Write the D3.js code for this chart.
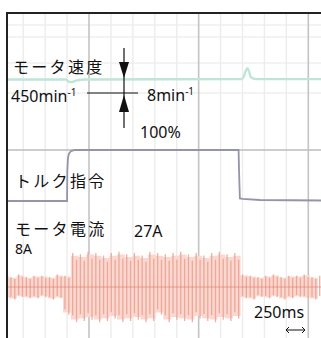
<!DOCTYPE html>
<html>
<head>
<meta charset="utf-8">
<script src="https://cdn.jsdelivr.net/npm/d3@7"></script>
<style>
html, body { margin: 0; padding: 0; background: #fff; }
svg { display: block; }
text { font-family: "Noto Sans", "Noto Sans CJK JP", sans-serif; fill: #111; }
.jp { font-family: "Noto Sans CJK JP", sans-serif; }
</style>
</head>
<body>
<div id="chart"></div>
<script>
// time grid: 250 ms per division, heavier line every 5 divisions
const gridTimes = d3.range(0, 4001, 250);
const majorStep = 1250;

// motor speed (min^-1)
const speedTimes  = [300, 990, 1020, 1050, 1100, 1200, 2990, 3015, 3035, 3055, 3075, 3095, 3150, 3900];
const speedValues = [453.6, 453.6, 453.0, 452.9, 453.3, 453.6, 453.7, 454.4, 455.8, 456.6, 455.7, 454.2, 453.7, 453.7];

// torque command (%)
const torqueTimes  = [300, 1000, 1003, 1010, 1022, 1045, 1090, 2955, 2962, 2970, 3000, 3200, 3900];
const torqueValues = [0, 0, 60, 84, 93, 98, 100, 100, 50, 5, 4, 2, 1];

// motor current (A), one positive and one negative peak per cycle
const currentStartMs = 250;
const currentPeriodMs = 88;
const currentPosPeaks = [9, 8, 10, 8, 9, 9, 8, 10, 9,
  27, 26, 28, 27, 25, 27, 28, 26, 27, 25, 28, 27, 26, 27, 28, 26, 27, 25, 27, 28, 26, 27,
  10, 9, 8, 9, 10, 8, 9, 9, 10, 8, 9];
const currentNegPeaks = [9, 10, 8, 9, 9, 8, 10, 9, 22,
  28, 27, 26, 28, 27, 25, 28, 27, 26, 28, 27, 22, 28, 26, 27, 28, 25, 27, 28, 26, 27, 25,
  9, 10, 8, 9, 8, 10, 9, 8, 9, 10, 9];

const width = 321, height = 338;
const frameLeft = 7, frameTop = 13;

const x = d3.scaleLinear().domain([0, 3750]).range([-20.65, 308.3]);
const ySpeed = d3.scaleLinear().domain([450, 458]).range([93, 63]);
const yTorque = d3.scaleLinear().domain([0, 100]).range([201, 150]);
const yCurrent = d3.scaleLinear().domain([-27, 27]).range([321, 253]);

const svg = d3.select("#chart").append("svg")
    .attr("width", width)
    .attr("height", height);

svg.append("rect").attr("width", width).attr("height", height).attr("fill", "#fff");

svg.append("clipPath").attr("id", "plot")
    .append("rect")
    .attr("x", frameLeft).attr("y", frameTop)
    .attr("width", width - frameLeft).attr("height", height - frameTop);

const plot = svg.append("g").attr("clip-path", "url(#plot)");

// faint horizontal lines in the speed band
[25, 37, 63, 93].forEach(yy => {
    plot.append("line")
        .attr("x1", frameLeft).attr("x2", width)
        .attr("y1", yy).attr("y2", yy)
        .attr("stroke", "#efefef").attr("stroke-width", 1.5);
});

plot.selectAll("line.vgrid")
    .data(gridTimes)
    .enter()
    .append("line")
    .attr("class", "vgrid")
    .attr("x1", d => x(d)).attr("x2", d => x(d))
    .attr("y1", frameTop).attr("y2", height)
    .attr("stroke", d => d % majorStep === 0 ? "#c4c4c4" : "#ececec")
    .attr("stroke-width", d => d % majorStep === 0 ? 1.6 : 1.4);

// 100% torque reference
plot.append("line")
    .attr("x1", frameLeft).attr("x2", width)
    .attr("y1", yTorque(100)).attr("y2", yTorque(100))
    .attr("stroke", "#bcbcbc").attr("stroke-width", 1.5);

// current: envelope plus one stroke per half cycle
const halfPeaks = [];
const envelope = [];
currentPosPeaks.forEach((p, k) => {
    const t0 = currentStartMs + k * currentPeriodMs;
    const n = currentNegPeaks[k];
    halfPeaks.push({ t: t0 + currentPeriodMs / 4, hi: p, lo: -n * 0.8 });
    halfPeaks.push({ t: t0 + currentPeriodMs * 3 / 4, hi: p * 0.8, lo: -n });
    envelope.push({ t: t0, hi: p, lo: -n });
});

plot.append("path")
    .datum(envelope)
    .attr("d", d3.area()
        .x(d => x(d.t))
        .y0(d => yCurrent(d.lo * 0.92))
        .y1(d => yCurrent(d.hi * 0.92))
        .curve(d3.curveStepAfter))
    .attr("fill", "#f9d8d0");

plot.selectAll("line.cur")
    .data(halfPeaks)
    .enter()
    .append("line")
    .attr("class", "cur")
    .attr("x1", d => x(d.t)).attr("x2", d => x(d.t))
    .attr("y1", d => yCurrent(d.hi)).attr("y2", d => yCurrent(d.lo))
    .attr("stroke", "#ee9a8c")
    .attr("stroke-width", 1.3)
    .attr("opacity", 0.8);

plot.append("line")
    .attr("x1", frameLeft).attr("x2", width)
    .attr("y1", yCurrent(0)).attr("y2", yCurrent(0))
    .attr("stroke", "#de7868").attr("stroke-width", 1).attr("opacity", 0.6);

// torque command
plot.append("path")
    .datum(torqueTimes.map((t, i) => [t, torqueValues[i]]))
    .attr("d", d3.line().x(d => x(d[0])).y(d => yTorque(d[1])))
    .attr("fill", "none")
    .attr("stroke", "#9494aa")
    .attr("stroke-width", 1.8);

// motor speed
plot.append("path")
    .datum(speedTimes.map((t, i) => [t, speedValues[i]]))
    .attr("d", d3.line().x(d => x(d[0])).y(d => ySpeed(d[1])).curve(d3.curveMonotoneX))
    .attr("fill", "none")
    .attr("stroke", "#bfe5d7")
    .attr("stroke-width", 2.4);

// scale marker for speed
const ann = svg.append("g").attr("stroke", "#111").attr("fill", "#111");
ann.append("line").attr("x1", 87).attr("x2", 138).attr("y1", ySpeed(450)).attr("y2", ySpeed(450)).attr("stroke-width", 1);
ann.append("line").attr("x1", 124).attr("x2", 124).attr("y1", 48).attr("y2", 128).attr("stroke-width", 1.2);
ann.append("path").attr("d", "M119,62 L129,62 L124,78 Z").attr("stroke", "none");
ann.append("path").attr("d", "M119,112 L129,112 L124,95 Z").attr("stroke", "none");

// 250 ms marker arrow
ann.append("path")
    .attr("d", "M286,330 L305,330 M289,327 L286,330 L289,333 M302,327 L305,330 L302,333")
    .attr("fill", "none").attr("stroke-width", 1);

// labels
svg.append("text").attr("class", "jp").attr("x", 13).attr("y", 73)
    .style("font-size", "16px").style("letter-spacing", "2.3px").text("モータ速度");

const t450 = svg.append("text").attr("x", 11).attr("y", 102).style("font-size", "16px");
t450.append("tspan").text("450min");
t450.append("tspan").attr("dy", -6).style("font-size", "10px").text("-1");

const t8 = svg.append("text").attr("x", 147).attr("y", 101).style("font-size", "16px");
t8.append("tspan").text("8min");
t8.append("tspan").attr("dy", -6).style("font-size", "10px").text("-1");

svg.append("text").attr("x", 140).attr("y", 138).style("font-size", "16px").text("100%");

svg.append("text").attr("class", "jp").attr("x", 15).attr("y", 187)
    .style("font-size", "16px").style("letter-spacing", "2.3px").text("トルク指令");

svg.append("text").attr("class", "jp").attr("x", 15).attr("y", 235)
    .style("font-size", "16px").style("letter-spacing", "2.3px").text("モータ電流");

svg.append("text").attr("x", 15).attr("y", 254).style("font-size", "14px").text("8A");
svg.append("text").attr("x", 134).attr("y", 237).style("font-size", "16px").text("27A");
svg.append("text").attr("x", 254).attr("y", 318).style("font-size", "16px").text("250ms");

// frame
svg.append("path")
    .attr("d", `M${frameLeft},${height} L${frameLeft},${frameTop} L${width},${frameTop}`)
    .attr("fill", "none")
    .attr("stroke", "#222")
    .attr("stroke-width", 2);
</script>
</body>
</html>
